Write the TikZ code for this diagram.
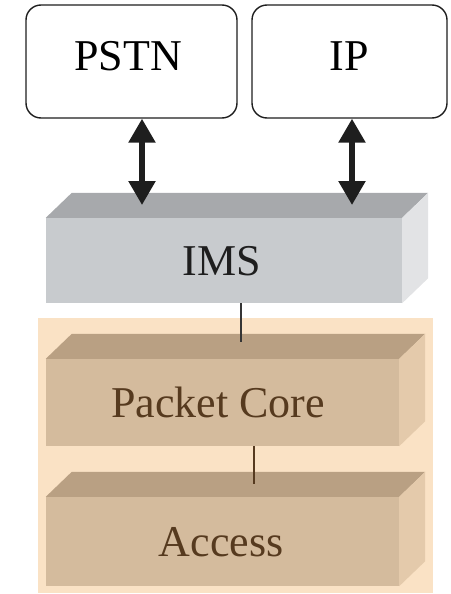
\documentclass[tikz,border=0pt]{standalone}
\usepackage{fontspec}
\setmainfont{Liberation Serif}
\usetikzlibrary{arrows.meta,calc}

\definecolor{imsTop}{HTML}{A7A9AC}
\definecolor{imsFront}{HTML}{C8CBCE}
\definecolor{imsSide}{HTML}{E2E3E5}
\definecolor{tanBg}{HTML}{FAE2C5}
\definecolor{tanTop}{HTML}{B9A083}
\definecolor{tanFront}{HTML}{D4BB9D}
\definecolor{tanSide}{HTML}{E4CAAB}
\definecolor{tanText}{HTML}{563A1F}
\definecolor{inkDark}{HTML}{1E1E1E}

\tikzset{
  netbox/.style={draw=inkDark, line width=1.4pt, rounded corners=15pt, fill=white,
    inner sep=0pt, text height=29pt, text depth=11pt, font=\fontsize{44}{50}\selectfont},
  slab/.style={inner sep=0pt, text height=29pt, text depth=0pt, font=\fontsize{44}{50}\selectfont},
  dblarrow/.style={draw=inkDark, line width=5.5pt,
    {Triangle[width=26pt,length=24pt]}-{Triangle[width=26pt,length=24pt]}},
  link/.style={line width=1.7pt}
}

% front face is the node; top and right faces are drawn from its corners
\newcommand{\slabfaces}[3]{%
  \fill[#2] (#1.north west) -- ($(#1.north west)+(26,-25)$) -- ($(#1.north east)+(26,-25)$) -- (#1.north east) -- cycle;
  \fill[#3] (#1.north east) -- ($(#1.north east)+(26,-25)$) -- ($(#1.south east)+(26,-25)$) -- (#1.south east) -- cycle;
}

\begin{document}
\begin{tikzpicture}[x=1pt,y=-1pt]
\useasboundingbox (0,0) rectangle (450,594);

% external networks
\node[netbox, minimum width=211pt, minimum height=113pt] (pstn) at (131.5,61.5) {PSTN\hspace*{7pt}};
\node[netbox, minimum width=195pt, minimum height=113pt] (ip) at (349.5,61.5) {IP};

% IMS layer
\node[slab, fill=imsFront, text=inkDark, minimum width=356pt, minimum height=85pt] (ims) at (224,260.5) {IMS\hspace*{4pt}};
\slabfaces{ims}{imsTop}{imsSide}

% operator network background
\fill[tanBg] (38,318) rectangle (433,593);

% packet core and access layers
\node[slab, fill=tanFront, text=tanText, minimum width=353pt, minimum height=87pt] (core) at (222.5,402.5) {Packet Core\hspace*{9pt}};
\slabfaces{core}{tanTop}{tanSide}
\node[slab, fill=tanFront, text=tanText, minimum width=353pt, minimum height=89pt] (access) at (222.5,541.5) {Access\hspace*{3pt}};
\slabfaces{access}{tanTop}{tanSide}

% connectors
\coordinate (pstnEnd) at (142,205);
\coordinate (ipEnd) at (352,205);
\draw[dblarrow] (pstn.south -| pstnEnd) -- (pstnEnd);
\draw[dblarrow] (ip.south -| ipEnd) -- (ipEnd);

\coordinate (coreTop) at (241,342);
\draw[link, draw=inkDark!90] (ims.south -| coreTop) -- (coreTop);
\coordinate (accessTop) at (254,484);
\draw[link, draw=tanText] (core.south -| accessTop) -- (accessTop);
\end{tikzpicture}
\end{document}
